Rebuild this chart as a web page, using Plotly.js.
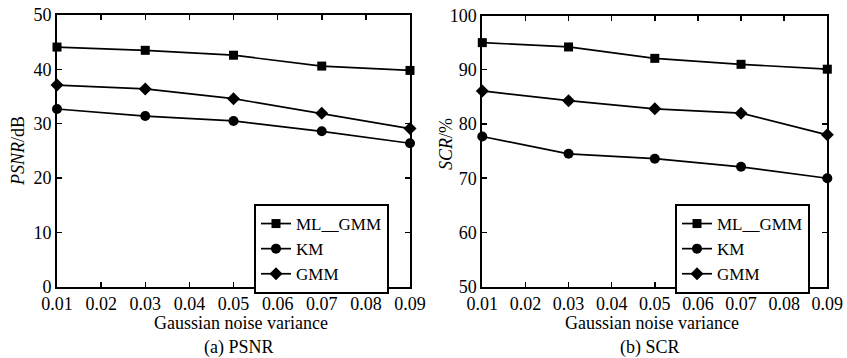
<!DOCTYPE html>
<html>
<head>
<meta charset="utf-8">
<script src="https://cdn.plot.ly/plotly-3.0.1.min.js"></script>
<style>html,body{margin:0;padding:0;background:#fff;}#chart{width:847px;height:358px;}</style>
</head>
<body>
<div id="chart"></div>
<script>
const variance = [0.01, 0.03, 0.05, 0.07, 0.09];
const seriesNames = ["ML__GMM", "KM", "GMM"];
const psnrML = [44.1, 43.5, 42.6, 40.6, 39.8];
const psnrKM = [32.7, 31.4, 30.5, 28.6, 26.4];
const psnrGMM = [37.1, 36.4, 34.6, 31.9, 29.1];
const scrML = [95.0, 94.2, 92.1, 91.0, 90.1];
const scrKM = [77.7, 74.5, 73.6, 72.1, 70.0];
const scrGMM = [86.1, 84.3, 82.8, 82.0, 78.0];
const xTicks = [0.01, 0.02, 0.03, 0.04, 0.05, 0.06, 0.07, 0.08, 0.09];

const FONT = "'Liberation Serif', 'Times New Roman', Times, serif";
const symbols = ["square", "circle", "diamond"];
const sizes = [9, 10, 10];

function mk(y, i, xa, ya, lg) {
  return {
    x: variance, y: y, name: seriesNames[i], type: "scatter", mode: "lines+markers",
    xaxis: xa, yaxis: ya, legend: lg, cliponaxis: false,
    line: {color: "#000", width: 1.7},
    marker: {symbol: symbols[i], size: sizes[i], color: "#000"}
  };
}
const data = [
  mk(psnrML, 0, "x", "y", "legend"), mk(psnrKM, 1, "x", "y", "legend"), mk(psnrGMM, 2, "x", "y", "legend"),
  mk(scrML, 0, "x2", "y2", "legend2"), mk(scrKM, 1, "x2", "y2", "legend2"), mk(scrGMM, 2, "x2", "y2", "legend2")
];

const axBase = {
  showline: true, linewidth: 2, linecolor: "#000", mirror: "ticks",
  ticks: "inside", ticklen: 5, tickwidth: 1.5, tickcolor: "#000",
  showgrid: false, zeroline: false, fixedrange: true,
  tickfont: {family: FONT, size: 18, color: "#000"}
};
function xa(domain, anchor) {
  return Object.assign({}, axBase, {domain: domain, anchor: anchor, range: [0.01, 0.09],
    tickmode: "array", tickvals: xTicks, ticktext: xTicks.map(v => v.toFixed(2))});
}
function ya(domain, anchor, range) {
  return Object.assign({}, axBase, {domain: domain, anchor: anchor, range: range, dtick: 10, tick0: 0});
}
const legBase = {
  xanchor: "left", yanchor: "top", bgcolor: "#fff", bordercolor: "#000", borderwidth: 2,
  font: {family: FONT, size: 17, color: "#000"}, itemwidth: 30, tracegroupgap: 0
};
function ann(text, x, y, angle) {
  return {text: text, x: x, y: y, xref: "paper", yref: "paper", showarrow: false,
    xanchor: "center", yanchor: "middle", textangle: angle || 0,
    font: {family: FONT, size: 18, color: "#000"}};
}
const layout = {
  width: 847, height: 358, margin: {l: 0, r: 0, t: 0, b: 0},
  paper_bgcolor: "#fff", plot_bgcolor: "#fff", showlegend: true,
  xaxis: xa([57/847, 410/847], "y"),
  yaxis: ya([1 - 286.7/358, 1 - 15/358], "x", [0, 50]),
  xaxis2: xa([482.3/847, 827.3/847], "y2"),
  yaxis2: ya([1 - 286.7/358, 1 - 15.5/358], "x2", [50, 100]),
  legend: Object.assign({}, legBase, {x: 254/847, y: 1 - 204/358}),
  legend2: Object.assign({}, legBase, {x: 675/847, y: 1 - 204/358}),
  annotations: [
    ann("<i>PSNR</i>/dB", 18/847, 1 - 151/358, -90),
    ann("<i>SCR</i>/%", 446/847, 1 - 144/358, -90),
    ann("Gaussian noise variance", 241/847, 1 - 323/358),
    ann("Gaussian noise variance", 651.7/847, 1 - 323/358),
    ann("(a) PSNR", 239/847, 1 - 347/358),
    ann("(b) SCR", 649.7/847, 1 - 347/358)
  ]
};
Plotly.newPlot("chart", data, layout, {staticPlot: true, displayModeBar: false});
</script>
</body>
</html>
